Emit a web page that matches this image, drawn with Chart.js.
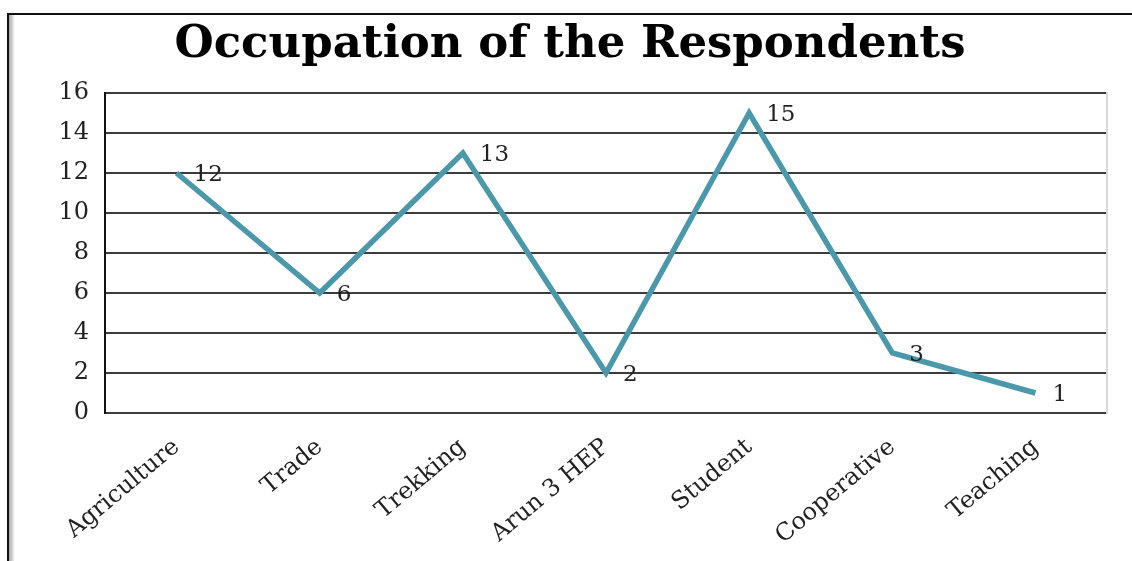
<!DOCTYPE html>
<html>
<head>
<meta charset="utf-8">
<title>Occupation of the Respondents</title>
<script src="https://cdn.jsdelivr.net/npm/chart.js@4.4.1/dist/chart.umd.min.js"></script>
<style>
  body { margin: 0; background: #fff; }
  #wrap { position: relative; width: 1132px; height: 561px; overflow: hidden; }
  .frame { position: absolute; left: 7px; top: 13px; width: 1200px; height: 600px;
           border-top: 2px solid #111; border-left: 2px solid #111; }
  .shade { position: absolute; left: 0; top: 0; width: 5px; height: 100%;
           background: linear-gradient(to right, #a8a8a8, #ececec); }
  canvas { position: absolute; left: 0; top: 0; }
</style>
</head>
<body>
<div id="wrap">
  <div class="frame"><div class="shade"></div></div>
  <canvas id="chart" width="1132" height="561"></canvas>
</div>
<script>
const occupations = ["Agriculture", "Trade", "Trekking", "Arun 3 HEP", "Student", "Cooperative", "Teaching"];
const respondents = [12, 6, 13, 2, 15, 3, 1];
const yMin = 0;
const yMax = 16;
const yStep = 2;

const serif = "DejaVu Serif";

// number next to each point of the line
const valueLabels = {
  id: "valueLabels",
  afterDatasetsDraw(chart) {
    const ctx = chart.ctx;
    const meta = chart.getDatasetMeta(0);
    ctx.save();
    ctx.font = "23px '" + serif + "'";
    ctx.fillStyle = "#222";
    ctx.textAlign = "left";
    ctx.textBaseline = "middle";
    meta.data.forEach(function (pt, i) {
      ctx.fillText(String(respondents[i]), pt.x + 17, pt.y + 2);
    });
    ctx.restore();
  }
};

new Chart(document.getElementById("chart"), {
  type: "line",
  data: {
    labels: occupations,
    datasets: [{
      data: respondents,
      borderColor: "#4a98aa",
      borderWidth: 5.5,
      pointRadius: 0,
      tension: 0,
      fill: false
    }]
  },
  options: {
    responsive: false,
    animation: false,
    layout: { padding: { left: 33, right: 25, top: 16, bottom: 0 } },
    plugins: {
      legend: { display: false },
      tooltip: { enabled: false },
      title: {
        display: true,
        text: "Occupation of the Respondents",
        color: "#000",
        font: { family: serif, size: 45, weight: "bold", lineHeight: 1.2 },
        padding: { top: 2, bottom: 21 }
      }
    },
    scales: {
      x: {
        offset: true,
        grid: { display: false, drawTicks: false },
        border: { display: false },
        ticks: {
          autoSkip: false,
          minRotation: 40,
          maxRotation: 40,
          color: "#222",
          font: { family: serif, size: 24 },
          padding: 20
        },
        afterFit: function (s) { s.height = 148; }
      },
      y: {
        min: yMin,
        max: yMax,
        ticks: { stepSize: yStep, color: "#222", font: { family: serif, size: 24 }, padding: 16 },
        grid: { color: "#3c3c3c", lineWidth: 2, drawTicks: false },
        border: { color: "#111", width: 2 },
        afterFit: function (s) { s.width = 72; }
      },
      yRight: {
        position: "right",
        min: yMin,
        max: yMax,
        ticks: { display: false },
        grid: { display: false, drawTicks: false },
        border: { color: "#d8d8d8", width: 2 },
        afterFit: function (s) { s.width = 0; }
      }
    }
  },
  plugins: [valueLabels]
});
</script>
</body>
</html>
